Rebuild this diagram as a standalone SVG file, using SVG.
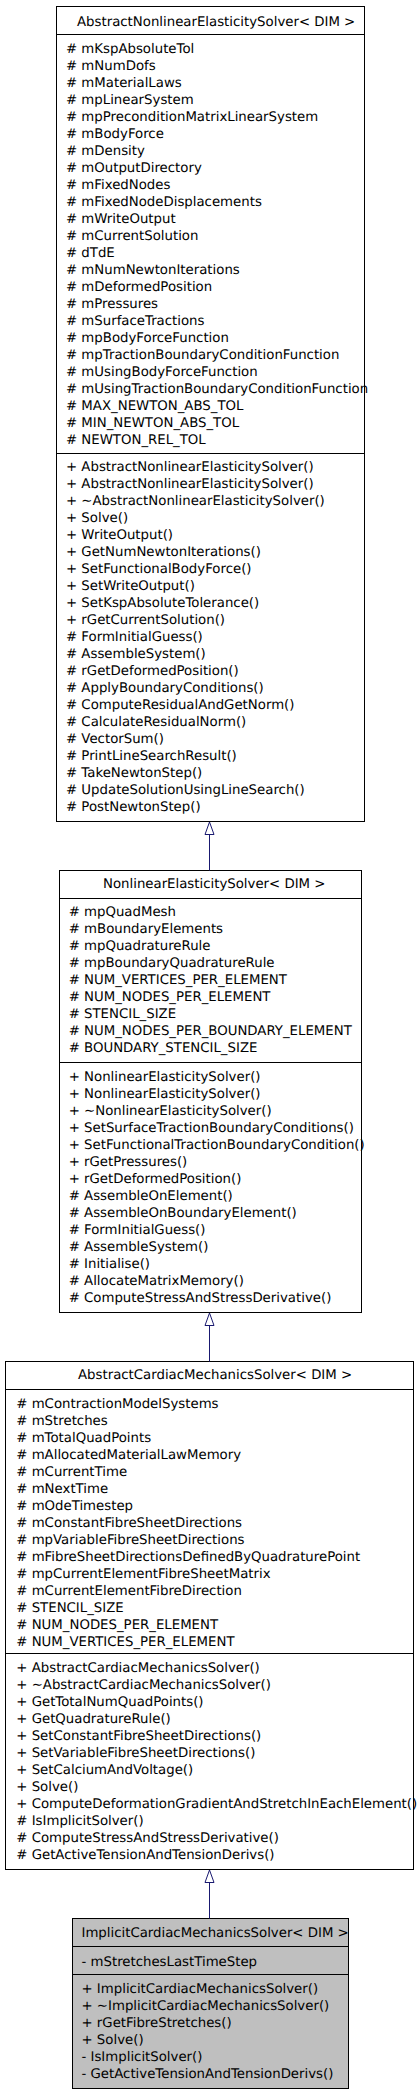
<svg xmlns="http://www.w3.org/2000/svg" width="419" height="2093" viewBox="0 0 419 2093">
<style>
.box{fill:#ffffff;stroke:#000000;stroke-width:1}
.sel{fill:#bfbfbf;stroke:#000000;stroke-width:1}
.sep{stroke:#000000;stroke-width:1;fill:none}
text{font-family:"DejaVu Sans","Liberation Sans",sans-serif;font-size:13.3px;fill:#000000;text-rendering:geometricPrecision}
.edge{stroke:#191970;stroke-width:1;fill:none}
.head{stroke:#191970;stroke-width:1;fill:#ffffff}
</style>
<rect width="419" height="2093" fill="#ffffff"/>
<g id="node-AbstractNonlinearElasticitySolver">
<rect class="box" x="56.5" y="6.5" width="308" height="815"/>
<line class="sep" x1="56.5" y1="34.5" x2="364.5" y2="34.5"/>
<line class="sep" x1="56.5" y1="453.5" x2="364.5" y2="453.5"/>
<text x="77" y="25.5">AbstractNonlinearElasticitySolver&lt; DIM &gt;</text>
<text x="66"><tspan x="66" y="52.5"># mKspAbsoluteTol</tspan><tspan x="66" dy="17"># mNumDofs</tspan><tspan x="66" dy="17"># mMaterialLaws</tspan><tspan x="66" dy="17"># mpLinearSystem</tspan><tspan x="66" dy="17"># mpPreconditionMatrixLinearSystem</tspan><tspan x="66" dy="17"># mBodyForce</tspan><tspan x="66" dy="17"># mDensity</tspan><tspan x="66" dy="17"># mOutputDirectory</tspan><tspan x="66" dy="17"># mFixedNodes</tspan><tspan x="66" dy="17"># mFixedNodeDisplacements</tspan><tspan x="66" dy="17"># mWriteOutput</tspan><tspan x="66" dy="17"># mCurrentSolution</tspan><tspan x="66" dy="17"># dTdE</tspan><tspan x="66" dy="17"># mNumNewtonIterations</tspan><tspan x="66" dy="17"># mDeformedPosition</tspan><tspan x="66" dy="17"># mPressures</tspan><tspan x="66" dy="17"># mSurfaceTractions</tspan><tspan x="66" dy="17"># mpBodyForceFunction</tspan><tspan x="66" dy="17"># mpTractionBoundaryConditionFunction</tspan><tspan x="66" dy="17"># mUsingBodyForceFunction</tspan><tspan x="66" dy="17"># mUsingTractionBoundaryConditionFunction</tspan><tspan x="66" dy="17"># MAX_NEWTON_ABS_TOL</tspan><tspan x="66" dy="17"># MIN_NEWTON_ABS_TOL</tspan><tspan x="66" dy="17"># NEWTON_REL_TOL</tspan></text>
<text x="66"><tspan x="66" y="470.8">+ AbstractNonlinearElasticitySolver()</tspan><tspan x="66" dy="17">+ AbstractNonlinearElasticitySolver()</tspan><tspan x="66" dy="17">+ ~AbstractNonlinearElasticitySolver()</tspan><tspan x="66" dy="17">+ Solve()</tspan><tspan x="66" dy="17">+ WriteOutput()</tspan><tspan x="66" dy="17">+ GetNumNewtonIterations()</tspan><tspan x="66" dy="17">+ SetFunctionalBodyForce()</tspan><tspan x="66" dy="17">+ SetWriteOutput()</tspan><tspan x="66" dy="17">+ SetKspAbsoluteTolerance()</tspan><tspan x="66" dy="17">+ rGetCurrentSolution()</tspan><tspan x="66" dy="17"># FormInitialGuess()</tspan><tspan x="66" dy="17"># AssembleSystem()</tspan><tspan x="66" dy="17"># rGetDeformedPosition()</tspan><tspan x="66" dy="17"># ApplyBoundaryConditions()</tspan><tspan x="66" dy="17"># ComputeResidualAndGetNorm()</tspan><tspan x="66" dy="17"># CalculateResidualNorm()</tspan><tspan x="66" dy="17"># VectorSum()</tspan><tspan x="66" dy="17"># PrintLineSearchResult()</tspan><tspan x="66" dy="17"># TakeNewtonStep()</tspan><tspan x="66" dy="17"># UpdateSolutionUsingLineSearch()</tspan><tspan x="66" dy="17"># PostNewtonStep()</tspan></text>
</g>
<g id="node-NonlinearElasticitySolver">
<rect class="box" x="59.5" y="870.5" width="302" height="442"/>
<line class="sep" x1="59.5" y1="898.5" x2="361.5" y2="898.5"/>
<line class="sep" x1="59.5" y1="1062.5" x2="361.5" y2="1062.5"/>
<text x="103" y="888">NonlinearElasticitySolver&lt; DIM &gt;</text>
<text x="68.7"><tspan x="68.7" y="915.8"># mpQuadMesh</tspan><tspan x="68.7" dy="17"># mBoundaryElements</tspan><tspan x="68.7" dy="17"># mpQuadratureRule</tspan><tspan x="68.7" dy="17"># mpBoundaryQuadratureRule</tspan><tspan x="68.7" dy="17"># NUM_VERTICES_PER_ELEMENT</tspan><tspan x="68.7" dy="17"># NUM_NODES_PER_ELEMENT</tspan><tspan x="68.7" dy="17"># STENCIL_SIZE</tspan><tspan x="68.7" dy="17"># NUM_NODES_PER_BOUNDARY_ELEMENT</tspan><tspan x="68.7" dy="17"># BOUNDARY_STENCIL_SIZE</tspan></text>
<text x="68.7"><tspan x="68.7" y="1080.8">+ NonlinearElasticitySolver()</tspan><tspan x="68.7" dy="17">+ NonlinearElasticitySolver()</tspan><tspan x="68.7" dy="17">+ ~NonlinearElasticitySolver()</tspan><tspan x="68.7" dy="17">+ SetSurfaceTractionBoundaryConditions()</tspan><tspan x="68.7" dy="17">+ SetFunctionalTractionBoundaryCondition()</tspan><tspan x="68.7" dy="17">+ rGetPressures()</tspan><tspan x="68.7" dy="17">+ rGetDeformedPosition()</tspan><tspan x="68.7" dy="17"># AssembleOnElement()</tspan><tspan x="68.7" dy="17"># AssembleOnBoundaryElement()</tspan><tspan x="68.7" dy="17"># FormInitialGuess()</tspan><tspan x="68.7" dy="17"># AssembleSystem()</tspan><tspan x="68.7" dy="17"># Initialise()</tspan><tspan x="68.7" dy="17"># AllocateMatrixMemory()</tspan><tspan x="68.7" dy="17"># ComputeStressAndStressDerivative()</tspan></text>
</g>
<g id="node-AbstractCardiacMechanicsSolver">
<rect class="box" x="5.5" y="1361.5" width="408" height="508"/>
<line class="sep" x1="5.5" y1="1389.5" x2="413.5" y2="1389.5"/>
<line class="sep" x1="5.5" y1="1653.5" x2="413.5" y2="1653.5"/>
<text x="78" y="1379">AbstractCardiacMechanicsSolver&lt; DIM &gt;</text>
<text x="16.3"><tspan x="16.3" y="1408"># mContractionModelSystems</tspan><tspan x="16.3" dy="17"># mStretches</tspan><tspan x="16.3" dy="17"># mTotalQuadPoints</tspan><tspan x="16.3" dy="17"># mAllocatedMaterialLawMemory</tspan><tspan x="16.3" dy="17"># mCurrentTime</tspan><tspan x="16.3" dy="17"># mNextTime</tspan><tspan x="16.3" dy="17"># mOdeTimestep</tspan><tspan x="16.3" dy="17"># mConstantFibreSheetDirections</tspan><tspan x="16.3" dy="17"># mpVariableFibreSheetDirections</tspan><tspan x="16.3" dy="17"># mFibreSheetDirectionsDefinedByQuadraturePoint</tspan><tspan x="16.3" dy="17"># mpCurrentElementFibreSheetMatrix</tspan><tspan x="16.3" dy="17"># mCurrentElementFibreDirection</tspan><tspan x="16.3" dy="17"># STENCIL_SIZE</tspan><tspan x="16.3" dy="17"># NUM_NODES_PER_ELEMENT</tspan><tspan x="16.3" dy="17"># NUM_VERTICES_PER_ELEMENT</tspan></text>
<text x="16.3"><tspan x="16.3" y="1671.5">+ AbstractCardiacMechanicsSolver()</tspan><tspan x="16.3" dy="17">+ ~AbstractCardiacMechanicsSolver()</tspan><tspan x="16.3" dy="17">+ GetTotalNumQuadPoints()</tspan><tspan x="16.3" dy="17">+ GetQuadratureRule()</tspan><tspan x="16.3" dy="17">+ SetConstantFibreSheetDirections()</tspan><tspan x="16.3" dy="17">+ SetVariableFibreSheetDirections()</tspan><tspan x="16.3" dy="17">+ SetCalciumAndVoltage()</tspan><tspan x="16.3" dy="17">+ Solve()</tspan><tspan x="16.3" dy="17">+ ComputeDeformationGradientAndStretchInEachElement()</tspan><tspan x="16.3" dy="17"># IsImplicitSolver()</tspan><tspan x="16.3" dy="17"># ComputeStressAndStressDerivative()</tspan><tspan x="16.3" dy="17"># GetActiveTensionAndTensionDerivs()</tspan></text>
</g>
<g id="node-ImplicitCardiacMechanicsSolver">
<rect class="sel" x="72.5" y="1918.5" width="276" height="170"/>
<line class="sep" x1="72.5" y1="1946.5" x2="348.5" y2="1946.5"/>
<line class="sep" x1="72.5" y1="1974.5" x2="348.5" y2="1974.5"/>
<text x="81.5" y="1937">ImplicitCardiacMechanicsSolver&lt; DIM &gt;</text>
<text x="81.5" y="1965.5">- mStretchesLastTimeStep</text>
<text x="81.5"><tspan x="81.5" y="1993">+ ImplicitCardiacMechanicsSolver()</tspan><tspan x="81.5" dy="17">+ ~ImplicitCardiacMechanicsSolver()</tspan><tspan x="81.5" dy="17">+ rGetFibreStretches()</tspan><tspan x="81.5" dy="17">+ Solve()</tspan><tspan x="81.5" dy="17">- IsImplicitSolver()</tspan><tspan x="81.5" dy="17">- GetActiveTensionAndTensionDerivs()</tspan></text>
</g>
<g id="connectors">
<line class="edge" x1="209.5" y1="834.5" x2="209.5" y2="870.5"/>
<polygon class="head" points="209.5,822 214,834.5 205,834.5"/>
<line class="edge" x1="209.5" y1="1325.5" x2="209.5" y2="1361.5"/>
<polygon class="head" points="209.5,1313 214,1325.5 205,1325.5"/>
<line class="edge" x1="209.5" y1="1882.5" x2="209.5" y2="1918.5"/>
<polygon class="head" points="209.5,1870 214,1882.5 205,1882.5"/>
</g>
</svg>
